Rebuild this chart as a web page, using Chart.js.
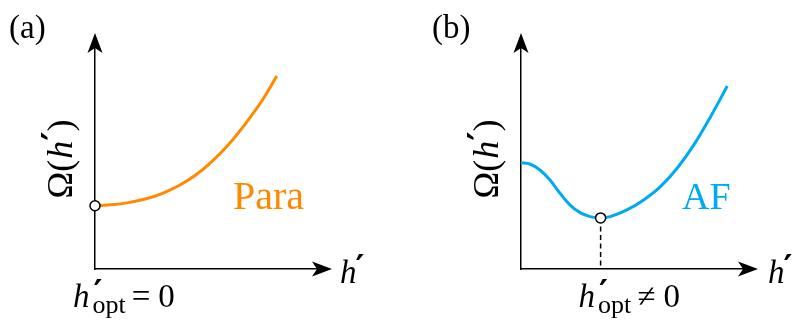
<!DOCTYPE html>
<html>
<head>
<meta charset="utf-8">
<script src="https://cdn.jsdelivr.net/npm/chart.js@4/dist/chart.umd.min.js"></script>
<style>
  html, body { margin: 0; padding: 0; background: #fff; }
  #wrap { position: relative; width: 793px; height: 322px; }
  #wrap canvas { position: absolute; left: 0; top: 0; }
</style>
</head>
<body>
<div id="wrap">
  <canvas id="panelA" width="793" height="322"></canvas>
  <canvas id="panelB" width="793" height="322"></canvas>
</div>
<script>
// Paramagnetic branch: Omega(h') rising from its minimum at h' = 0
const paraH     = [0, 0.75, 1.5, 2.25, 3.0, 3.75, 4.5, 5.25, 6.0, 6.75, 7.5, 8.15];
const paraOmega = [2.85, 2.89, 2.99, 3.15, 3.40, 3.75, 4.22, 4.85, 5.62, 6.55, 7.60, 8.69];

// Antiferromagnetic branch: Omega(h') with a minimum at finite h'
const afH     = [0, 0.4, 0.85, 1.3, 1.75, 2.2, 2.65, 3.1, 3.57, 4.0, 4.75, 5.5, 6.25, 7.0, 7.75, 8.5, 9.25];
const afOmega = [4.79, 4.73, 4.46, 4.01, 3.41, 2.88, 2.54, 2.36, 2.30, 2.36, 2.66, 3.11, 3.71, 4.54, 5.59, 6.86, 8.24];

// Optimal field of each branch
const paraOpt = { h: 0, omega: 2.85 };
const afOpt   = { h: 3.57, omega: 2.30 };

// Axis range shared by both sketches
const axisMin = 0;
const axisMax = 10;

const ORANGE = 'rgb(255,137,0)';
const BLUE   = 'rgb(0,170,240)';
const SERIF  = '"Liberation Serif", "DejaVu Serif", serif';

function pts(xs, ys) { return xs.map((x, i) => ({ x: x, y: ys[i] })); }

// Filled "stealth" arrowhead, tip at (tx, ty), pointing along (dx, dy)
function arrowHead(ctx, tx, ty, dx, dy) {
  const L = 20, W = 7.5, N = 5;
  const px = -dy, py = dx;
  ctx.beginPath();
  ctx.moveTo(tx, ty);
  ctx.lineTo(tx - dx * L + px * W, ty - dy * L + py * W);
  ctx.lineTo(tx - dx * (L - N), ty - dy * (L - N));
  ctx.lineTo(tx - dx * L - px * W, ty - dy * L - py * W);
  ctx.closePath();
  ctx.fillStyle = '#000';
  ctx.fill();
}

// Draws a run of text pieces; each piece: {t, f (font), dy, pre, gap, noAdvance}
function drawRun(ctx, parts, x, y, color) {
  ctx.fillStyle = color || '#000';
  ctx.textBaseline = 'alphabetic';
  ctx.textAlign = 'left';
  let cx = x;
  for (const p of parts) {
    ctx.font = p.f;
    cx += p.pre || 0;
    ctx.fillText(p.t, cx, y + (p.dy || 0));
    if (!p.noAdvance) cx += ctx.measureText(p.t).width;
    cx += p.gap || 0;
  }
}

function runWidth(ctx, parts) {
  let w = 0;
  for (const p of parts) {
    ctx.font = p.f;
    w += (p.pre || 0) + (p.noAdvance ? 0 : ctx.measureText(p.t).width) + (p.gap || 0);
  }
  return w;
}

const big    = '33px ' + SERIF;
const bigIt  = 'italic 33px ' + SERIF;
const sub    = '26px ' + SERIF;
const prime  = 'bold 34px "DejaVu Sans", sans-serif';

function omegaLabel(ctx, cx, cy) {
  ctx.save();
  ctx.translate(cx, cy);
  ctx.rotate(-Math.PI / 2);
  const f  = '36px ' + SERIF;
  const fi = 'italic 36px ' + SERIF;
  const parts = [
    { t: 'Ω', f: f },
    { t: '(', f: f, gap: 1 },
    { t: 'h', f: fi },
    { t: '′', f: 'bold 36px "DejaVu Sans", sans-serif', dy: -5, gap: 0 },
    { t: ')', f: f }
  ];
  drawRun(ctx, parts, -runWidth(ctx, parts) / 2, 12);
  ctx.restore();
}

function hAxisLabel(ctx, x, y) {
  drawRun(ctx, [
    { t: 'h', f: bigIt, gap: -1 },
    { t: '′', f: prime, dy: -4 }
  ], x, y);
}

// h'_opt followed by a relation and zero
function hOptLabel(ctx, x, y, rel) {
  drawRun(ctx, [
    { t: 'h', f: bigIt, gap: 4 },
    { t: '′', f: prime, dy: -3, noAdvance: true, pre: 0 },
    { t: 'opt', f: sub, dy: 6, gap: 6, pre: -1 },
    { t: rel, f: big, gap: 8 },
    { t: '0', f: big }
  ], x, y);
}

function makeOptions() {
  return {
    responsive: false,
    animation: false,
    events: [],
    layout: { padding: 0 },
    plugins: { legend: { display: false }, tooltip: { enabled: false } },
    scales: {
      x: {
        type: 'linear', min: axisMin, max: axisMax,
        grid: { display: false, drawTicks: false, tickLength: 0 },
        border: { display: true, color: '#000', width: 1.5 },
        ticks: { display: false }
      },
      y: {
        type: 'linear', min: axisMin, max: axisMax,
        grid: { display: false, drawTicks: false, tickLength: 0 },
        border: { display: true, color: '#000', width: 1.5 },
        ticks: { display: false }
      }
    }
  };
}

// Arrowheads on both axes plus the panel annotations
function decorPlugin(id, textFn) {
  return {
    id: id,
    afterDraw(chart) {
      const ctx = chart.ctx;
      const a = chart.chartArea;
      ctx.save();
      arrowHead(ctx, a.right + 14, a.bottom, 1, 0);
      arrowHead(ctx, a.left, a.top - 14, 0, -1);
      textFn(ctx, a, chart);
      ctx.restore();
    }
  };
}

const curveStyle = { showLine: true, borderWidth: 3, pointRadius: 0, tension: 0.4 };
const markerStyle = {
  pointRadius: 5, pointBackgroundColor: '#fff', pointBorderColor: '#000',
  pointBorderWidth: 1.5, clip: false
};

// ---- Panel (a): paramagnetic ----
const optsA = makeOptions();
optsA.layout.padding = { left: 95, top: 47, right: 793 - 318, bottom: 322 - 269 };
new Chart(document.getElementById('panelA'), {
  type: 'scatter',
  data: {
    datasets: [
      Object.assign({ data: [{ x: paraOpt.h, y: paraOpt.omega }] }, markerStyle),
      Object.assign({ data: pts(paraH, paraOmega), borderColor: ORANGE }, curveStyle)
    ]
  },
  options: optsA,
  plugins: [decorPlugin('decorA', (ctx, a) => {
    drawRun(ctx, [{ t: '(a)', f: '33px ' + SERIF }], a.left - 86, 38);
    omegaLabel(ctx, a.left - 35, 159);
    hAxisLabel(ctx, a.right + 22, a.bottom + 14);
    hOptLabel(ctx, a.left - 22, a.bottom + 38, '=');
    drawRun(ctx, [{ t: 'Para', f: '40px ' + SERIF }], 233, 209, ORANGE);
  })]
});

// ---- Panel (b): antiferromagnetic ----
const optsB = makeOptions();
optsB.layout.padding = { left: 521, top: 47, right: 793 - 744, bottom: 322 - 269 };
new Chart(document.getElementById('panelB'), {
  type: 'scatter',
  data: {
    datasets: [
      Object.assign({ data: [{ x: afOpt.h, y: afOpt.omega }] }, markerStyle),
      {
        data: [{ x: afOpt.h, y: afOpt.omega }, { x: afOpt.h, y: axisMin }],
        showLine: true, borderColor: '#000', borderWidth: 1.5,
        borderDash: [5, 3.5], pointRadius: 0
      },
      Object.assign({ data: pts(afH, afOmega), borderColor: BLUE }, curveStyle)
    ]
  },
  options: optsB,
  plugins: [decorPlugin('decorB', (ctx, a, chart) => {
    drawRun(ctx, [{ t: '(b)', f: '33px ' + SERIF }], a.left - 89, 38);
    omegaLabel(ctx, a.left - 35, 159);
    hAxisLabel(ctx, a.right + 24, a.bottom + 14);
    const xo = chart.scales.x.getPixelForValue(afOpt.h);
    hOptLabel(ctx, xo - 22, a.bottom + 38, '≠');
    drawRun(ctx, [{ t: 'AF', f: '38px ' + SERIF }], 682, 209, BLUE);
  })]
});
</script>
</body>
</html>
